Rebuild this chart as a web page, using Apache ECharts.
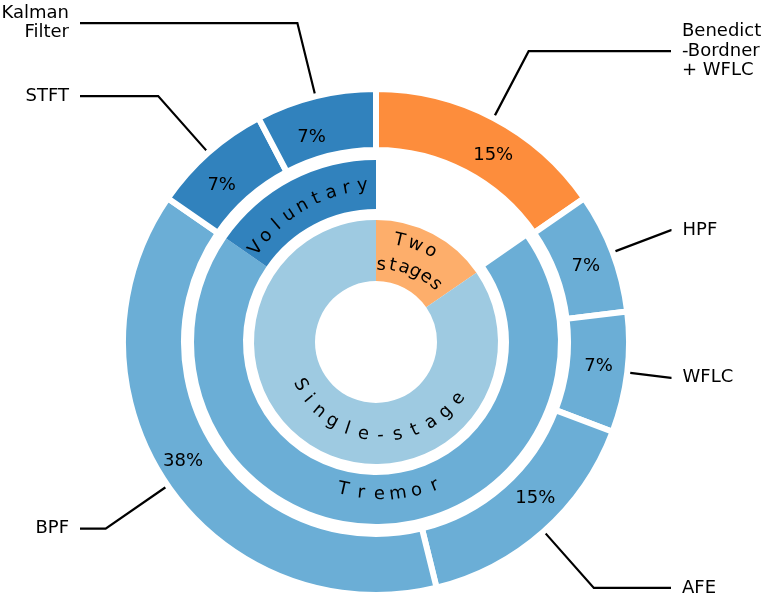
<!DOCTYPE html>
<html><head><meta charset="utf-8">
<script src="https://cdn.jsdelivr.net/npm/echarts@6/dist/echarts.min.js"></script>
<style>html,body{margin:0;padding:0;background:#fff}#c{width:765px;height:600px}</style>
</head><body><div id="c"></div>
<script>
// ---- data ----
const methods = ['Benedict\n-Bordner\n+ WFLC', 'HPF', 'WFLC', 'AFE', 'BPF', 'STFT', 'Kalman\nFilter'];
const methodCounts = [2, 1, 1, 2, 5, 1, 1];
const methodColors = ['#fd8d3c', '#6baed6', '#6baed6', '#6baed6', '#6baed6', '#3182bd', '#3182bd'];
const purposeNames = ['', 'Tremor', 'Voluntary'];
const purposeCounts = [2, 9, 2];
const purposeColors = ['rgba(0,0,0,0)', '#6baed6', '#3182bd'];
const stageNames = ['Two stages', 'Single-stage'];
const stageCounts = [2, 11];
const stageColors = ['#fdae6b', '#9ecae1'];

// ---- layout / style constants ----
const CX = 376, CY = 342;
const FONT = '"DejaVu Sans", sans-serif';
const FS = 18;
const OUT_R = 250, CORNER_R = 328.5, LEFT_END = 80, RIGHT_END = 671;
// small nudges of the percentage labels (angle in degrees, radius in px)
const pctAngleNudge = [4.5, 1, -0.6, -3.9, 2.8, -3, -3.6];
const pctRadius = [220, 223, 224, 223.5, 227, 220, 215];

const total = methodCounts.reduce((a, b) => a + b, 0);
const midAngles = [];
let cum = 0;
methodCounts.forEach(v => { midAngles.push((cum + v / 2) / total * 360); cum += v; });

// outside label line geometry derived from each slice's mid angle
const labelData = methods.map((name, i) => {
  const v = methodCounts[i];
  const mid = midAngles[i] * Math.PI / 180;
  const s = Math.sin(mid);
  const right = s > 0;
  const cornerX = CX + CORNER_R * s;
  let L1 = CORNER_R - OUT_R, L2;
  if (right && cornerX > RIGHT_END) {
    L1 = (RIGHT_END - CX) / s - OUT_R; L2 = 0.5;
  } else if (!right && cornerX < LEFT_END) {
    L1 = (LEFT_END - CX) / s - OUT_R; L2 = 0.5;
  } else {
    L2 = right ? RIGHT_END - cornerX : cornerX - LEFT_END;
  }
  const item = { value: v, name: name, labelLine: { length: L1, length2: L2 } };
  if (name === 'HPF') item.label = { padding: [0, 0, 10, 0] };
  return item;
});

// curved text helper
function arcText(text, r0, r1, a0, a1, bottom) {
  const chars = text.split('');
  const n = chars.length;
  return chars.map((ch, i) => {
    const t = n > 1 ? i / (n - 1) : 0;
    const th = a0 + (a1 - a0) * t;
    const r = r0 + (r1 - r0) * t;
    const rad = th * Math.PI / 180;
    return {
      type: 'text',
      x: CX + r * Math.sin(rad),
      y: CY - r * Math.cos(rad),
      rotation: bottom ? (180 - th) * Math.PI / 180 : -th * Math.PI / 180,
      silent: true,
      z: 100,
      style: { text: ch, font: FS + 'px ' + FONT, fill: '#000', align: 'center', verticalAlign: 'middle' }
    };
  });
}

const graphics = [].concat(
  arcText('Voluntary', 152, 157, 308, 355, false),
  arcText('Tremor', 151, 155, 192.6, 157.8, true),
  arcText('Two', 104, 106, 13, 31, false),
  arcText('stages', 77, 83, 4, 46, false),
  arcText('Single-stage', 87, 100, 240.5, 124.6, true)
);

const chart = echarts.init(document.getElementById('c'), null, { renderer: 'canvas' });
chart.setOption({
  backgroundColor: '#fff',
  animation: false,
  series: [
    {
      type: 'pie', center: [CX, CY], radius: [61, 122], silent: true,
      startAngle: 90, clockwise: true, avoidLabelOverlap: false,
      label: { show: false }, labelLine: { show: false },
      emphasis: { disabled: true },
      data: stageNames.map((n, i) => ({ name: n, value: stageCounts[i], itemStyle: { color: stageColors[i] } }))
    },
    {
      type: 'pie', center: [CX, CY], radius: [133, 182], silent: true,
      startAngle: 90, clockwise: true, avoidLabelOverlap: false,
      label: { show: false }, labelLine: { show: false },
      emphasis: { disabled: true },
      data: purposeNames.map((n, i) => ({ name: n, value: purposeCounts[i], itemStyle: { color: purposeColors[i] } }))
    },
    {
      type: 'pie', center: [CX, CY], radius: [192, 253], silent: true,
      startAngle: 90, clockwise: true, avoidLabelOverlap: false,
      itemStyle: { borderColor: '#fff', borderWidth: 6 },
      label: {
        show: true, position: 'inside', color: '#000', fontFamily: FONT, fontSize: FS,
        formatter: p => Math.floor(p.value / total * 100) + '%'
      },
      labelLayout: function (params) {
        const i = params.dataIndex;
        const th = (midAngles[i] + pctAngleNudge[i]) * Math.PI / 180;
        const r = pctRadius[i];
        return { x: CX + r * Math.sin(th), y: CY - r * Math.cos(th), align: 'center', verticalAlign: 'middle' };
      },
      labelLine: { show: false },
      emphasis: { disabled: true },
      data: methods.map((n, i) => ({ name: n, value: methodCounts[i], itemStyle: { color: methodColors[i] } }))
    },
    {
      type: 'pie', center: [CX, CY], radius: [192, OUT_R], silent: true,
      startAngle: 90, clockwise: true, avoidLabelOverlap: false,
      itemStyle: { color: 'rgba(0,0,0,0)' },
      label: {
        show: true, position: 'outside', color: '#000', fontFamily: FONT, fontSize: FS,
        lineHeight: 19.5, distanceToLabelLine: 11, formatter: '{b}'
      },
      labelLine: { show: true, lineStyle: { color: '#000', width: 2.2 }, smooth: false },
      emphasis: { disabled: true },
      data: labelData
    }
  ],
  graphic: graphics
});
</script>
</body></html>
